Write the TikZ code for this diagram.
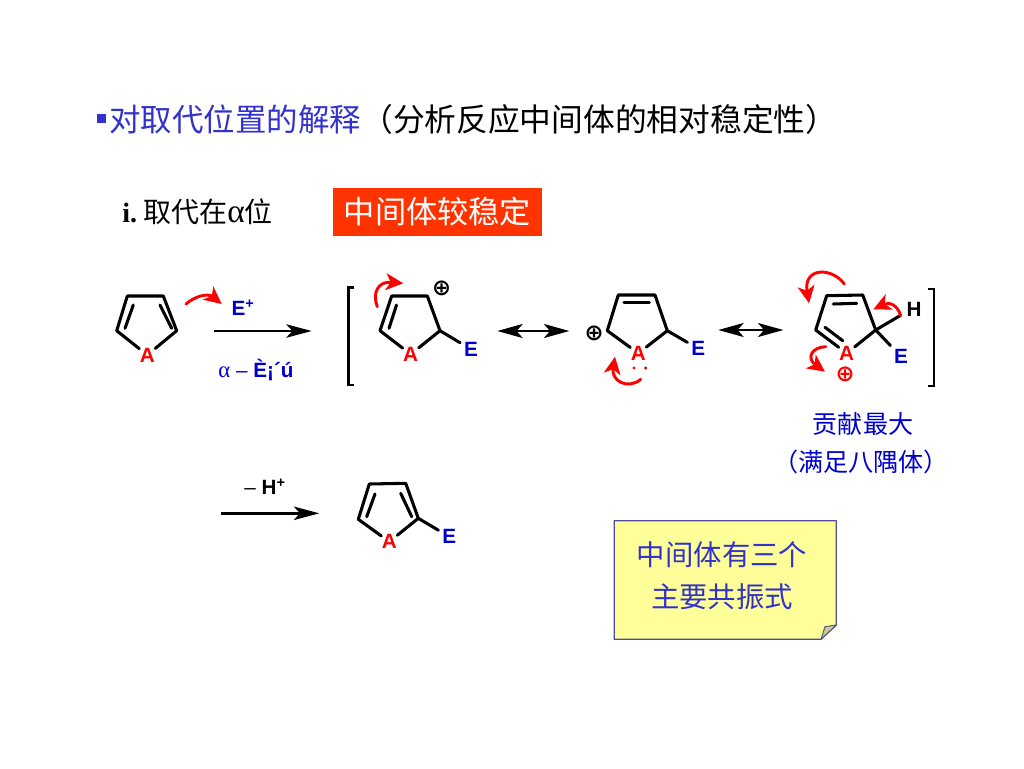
\documentclass[tikz,border=0pt]{standalone}
\usepackage{fontspec}
\setmainfont{Liberation Sans}
\newfontfamily\cjk{Noto Sans CJK SC}
\newfontfamily\serifx{Liberation Serif}
\newfontfamily\dejavu{DejaVu Sans}
\usetikzlibrary{arrows.meta}
\definecolor{titleblue}{HTML}{3333CC}
\definecolor{labelblue}{HTML}{0000CC}
\definecolor{curvered}{HTML}{FF0000}
\definecolor{boxred}{HTML}{FF3300}
\definecolor{noteyellow}{HTML}{FFFF99}
\definecolor{noteedge}{HTML}{4D4D99}
\definecolor{notefold}{HTML}{CDCD7D}
\newcommand{\fsz}[1]{\fontsize{#1}{#1}\selectfont}
\tikzset{
  x=0.75pt,y=-0.75pt,
  bond/.style={line width=2.3pt,line join=round,line cap=round,black},
  brk/.style={line width=2.2pt,line join=miter,black},
  atomA/.style={inner sep=0pt,outer sep=0pt,minimum width=12pt,text height=10.8pt,text depth=0pt,text=red,font=\bfseries\fsz{15.5}},
  atomE/.style={inner sep=0pt,outer sep=3pt,minimum width=9pt,text height=10.8pt,text depth=0pt,text=labelblue,font=\bfseries\fsz{15.5}},
  atomH/.style={atomE,text=black},
  react/.style={line width=2.2pt,black,-{Stealth[length=19pt,width=10pt,inset=4.5pt]}},
  reso/.style={line width=1.5pt,black,{Stealth[length=19pt,width=10.5pt,inset=4.5pt]}-{Stealth[length=19pt,width=10.5pt,inset=4.5pt]}},
  curve/.style={line width=2.2pt,curvered,line cap=round,-{Stealth[length=13pt,width=12.5pt,inset=3.5pt]}},
  plusm/.style={inner sep=0pt,font=\dejavu\bfseries\fsz{17}},
  cjkblue/.style={inner sep=0pt,text=labelblue,font=\cjk\fsz{18.8}},
  txt/.style={inner sep=0pt,anchor=west},
}
\begin{document}
\begin{tikzpicture}
\useasboundingbox (0,0) rectangle (1024,768);
\fill[white] (0,0) rectangle (1024,768);

% title
\node[fill=titleblue,inner sep=0pt,minimum size=6.5pt] (bul) at (101.5,118.5) {};
\node[txt,text=titleblue,font=\cjk\fsz{23.6}] (t1) at (109,119) {对取代位置的解释};
\node[txt,font=\cjk\fsz{23.8}] (t2) at (361,119) {（分析反应中间体的相对稳定性）};

% subtitle
\node[txt,font=\fsz{21}] (sub) at (122,212) {{\serifx\bfseries i.}\hspace{-3pt} {\cjk 取代在}{\serifx\fsz{25}α}{\cjk 位}};
\node[fill=boxred,text=white,font=\cjk\fsz{23.4},inner sep=0pt,minimum width=156.75pt,minimum height=36pt] (box) at (437.5,212) {中间体较稳定};

% ring 1
\node[atomA] (A1) at (147.3,355) {A};
\coordinate (l1) at (116.7,330.7);
\coordinate (tl1) at (127.3,296);
\coordinate (tr1) at (163.3,296);
\coordinate (r1) at (176.7,330.7);
\coordinate (il1a) at (133.3,305);
\coordinate (il1b) at (125,328.3);
\coordinate (ir1a) at (160,305);
\coordinate (ir1b) at (171.7,328.3);
\draw[bond] (A1) -- (l1) -- (tl1) -- (tr1) -- (r1) -- (A1);
\draw[bond] (il1a) -- (il1b);
\draw[bond] (ir1a) -- (ir1b);

% first reaction arrow
\coordinate (ar1s) at (214.3,331);
\coordinate (ar1e) at (311.7,331);
\draw[react] (ar1s) -- (ar1e);
\node[inner sep=0pt,text=labelblue,font=\bfseries\fsz{15.5}] (eplus) at (243,308) {E\textsuperscript{+}};
\node[inner sep=0pt,text=labelblue,font=\fsz{15.5}] (alab) at (256,370) {{\serifx\fsz{17}α} – \textbf{È¡´ú}};
\coordinate (c1s) at (186,304);
\coordinate (c1e) at (221.7,304);
\draw[curve] (c1s) .. controls (195,296) and (208,293) .. (c1e);

% left bracket
\coordinate (bl1) at (354.3,287.3);
\coordinate (bl2) at (348.3,287.3);
\coordinate (bl3) at (348.3,385);
\coordinate (bl4) at (354.3,385);
\draw[brk] (bl1) -- (bl2) -- (bl3) -- (bl4);

% ring 2
\node[atomA] (A2) at (410.7,354.3) {A};
\node[atomE] (E2) at (471,349.3) {E};
\coordinate (l2) at (380,330.7);
\coordinate (tl2) at (391.7,296);
\coordinate (tr2) at (427.3,296);
\coordinate (r2) at (440,330.7);
\coordinate (il2a) at (396.5,305);
\coordinate (il2b) at (389,328.3);
\draw[bond] (A2) -- (l2) -- (tl2) -- (tr2) -- (r2) -- (A2);
\draw[bond] (il2a) -- (il2b);
\draw[bond] (r2) -- (E2);
\node[plusm] (p2) at (441.7,288.3) {⊕};
\coordinate (c2s) at (377.3,306.7);
\coordinate (c2e) at (403.3,283.3);
\draw[curve] (c2s) .. controls (372,293) and (378,281) .. (c2e);

% resonance arrow 1
\coordinate (re1s) at (497.3,331);
\coordinate (re1e) at (569.3,331);
\draw[reso] (re1s) -- (re1e);

% ring 3
\node[atomA] (A3) at (638.3,353.3) {A};
\node[atomE] (E3) at (698.3,348.7) {E};
\coordinate (l3) at (607.3,330.7);
\coordinate (tl3) at (618.3,295);
\coordinate (tr3) at (655,295);
\coordinate (r3) at (667.3,330.7);
\coordinate (i3a) at (624,302.7);
\coordinate (i3b) at (649.3,302.7);
\draw[bond] (A3) -- (l3) -- (tl3) -- (tr3) -- (r3) -- (A3);
\draw[bond] (i3a) -- (i3b);
\draw[bond] (r3) -- (E3);
\node[plusm] (p3) at (594,333.3) {⊕};
\node[circle,fill=red,inner sep=0pt,minimum size=2.6pt] (d1) at (634,368) {};
\node[circle,fill=red,inner sep=0pt,minimum size=2.6pt] (d2) at (645.7,368) {};
\coordinate (c3s) at (640.7,379.3);
\coordinate (c3e) at (615,356.7);
\draw[curve] (c3s) .. controls (628,390) and (611,381) .. (c3e);

% resonance arrow 2
\coordinate (re2s) at (718.3,330);
\coordinate (re2e) at (783.3,330);
\draw[reso] (re2s) -- (re2e);

% ring 4
\node[atomA] (A4) at (846.7,353.3) {A};
\node[atomE] (E4) at (901,356.7) {E};
\node[atomH,outer sep=0pt] (H4) at (914,309) {H};
\coordinate (l4) at (815.7,330);
\coordinate (tl4) at (826.7,295.7);
\coordinate (tr4) at (862.7,295);
\coordinate (r4) at (875.7,330);
\coordinate (i4a) at (833.3,304);
\coordinate (i4b) at (856.7,303.3);
\coordinate (i4c) at (825,327.3);
\coordinate (i4d) at (842.7,340.7);
\coordinate (hb) at (900,315.7);
\draw[bond] (A4) -- (l4) -- (tl4) -- (tr4) -- (r4) -- (A4);
\draw[bond] (i4a) -- (i4b);
\draw[bond] (i4c) -- (i4d);
\draw[bond] (r4) -- (hb);
\draw[bond] (r4) -- (E4);
\node[plusm,text=red] (p4) at (845,374) {⊕};
\coordinate (c4s) at (844.3,284);
\coordinate (c4e) at (809,303.3);
\draw[curve] (c4s) .. controls (832,267) and (803,267) .. (c4e);
\coordinate (c5s) at (825.7,346.7);
\coordinate (c5e) at (825,371.7);
\draw[curve] (c5s) .. controls (812,347) and (806,358) .. (c5e);
\coordinate (c6s) at (900.7,315.7);
\coordinate (c6e) at (873.3,309.3);
\draw[curve] (c6s) .. controls (897,304) and (889,302) .. (c6e);

% right bracket
\coordinate (br1) at (928.3,289);
\coordinate (br2) at (934,289);
\coordinate (br3) at (934,386);
\coordinate (br4) at (928.3,386);
\draw[brk] (br1) -- (br2) -- (br3) -- (br4);

\node[cjkblue] (n1) at (863,424) {贡献最大};
\node[cjkblue] (n2) at (861,462) {（满足八隅体）};

% lower reaction
\coordinate (ar2s) at (221,513.3);
\coordinate (ar2e) at (319.3,513.3);
\draw[react] (ar2s) -- (ar2e);
\node[inner sep=0pt,font=\fsz{15.5}] (hlab) at (265,487) {– \textbf{H\textsuperscript{+}}};

% ring 5
\node[atomA] (A5) at (389.3,541.7) {A};
\node[atomE] (E5) at (449.3,536.7) {E};
\coordinate (l5) at (358.3,519.3);
\coordinate (tl5) at (369.3,484);
\coordinate (tr5) at (405.7,483.3);
\coordinate (r5) at (418.3,518.3);
\coordinate (i5a) at (375,494);
\coordinate (i5b) at (366.7,516.7);
\coordinate (i5c) at (400.7,493.3);
\coordinate (i5d) at (411.7,516.7);
\draw[bond] (A5) -- (l5) -- (tl5) -- (tr5) -- (r5) -- (A5);
\draw[bond] (i5a) -- (i5b);
\draw[bond] (i5c) -- (i5d);
\draw[bond] (r5) -- (E5);

% note
\draw[noteedge,line width=0.9pt,fill=noteyellow,line join=round]
  (614.3,520.7) -- (836.3,520.7) -- (836.3,625) -- (821,639.3) -- (614.3,639.3) -- cycle;
\draw[noteedge,line width=0.7pt,fill=notefold,line join=round]
  (821,639.3) -- (825,626.7) -- (836.3,625) -- cycle;
\node[inner sep=0pt,text=titleblue,font=\cjk\fsz{21.3}] (n3) at (722,555) {中间体有三个};
\node[inner sep=0pt,text=titleblue,font=\cjk\fsz{21.3}] (n4) at (722,597) {主要共振式};
\end{tikzpicture}
\end{document}
